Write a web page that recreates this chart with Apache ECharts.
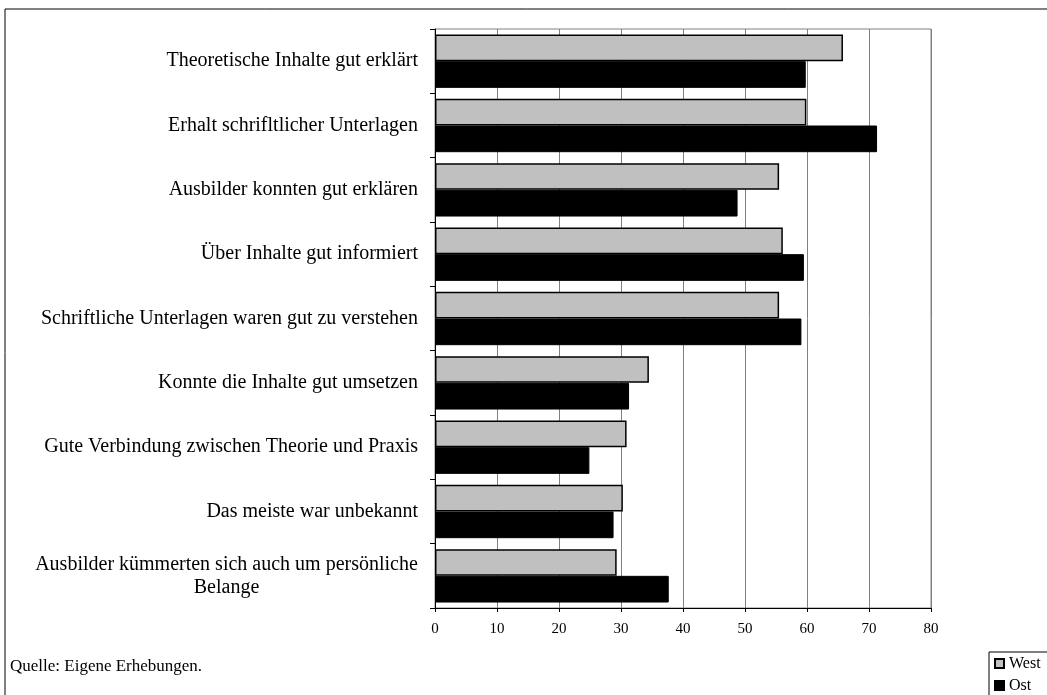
<!DOCTYPE html>
<html>
<head>
<meta charset="utf-8">
<script src="https://cdn.jsdelivr.net/npm/echarts@6/dist/echarts.min.js"></script>
<style>html,body{margin:0;padding:0;background:#fff}#c{width:1047px;height:695px}</style>
</head>
<body>
<div id="c"></div>
<script>
var categories = [
  "Theoretische Inhalte gut erklärt",
  "Erhalt schrifltlicher Unterlagen",
  "Ausbilder konnten gut erklären",
  "Über Inhalte gut informiert",
  "Schriftliche Unterlagen waren gut zu verstehen",
  "Konnte die Inhalte gut umsetzen",
  "Gute Verbindung zwischen Theorie und Praxis",
  "Das meiste war unbekannt",
  "Ausbilder kümmerten sich auch um persönliche\nBelange"
];
var westValues = [65.8, 59.9, 55.5, 56.1, 55.5, 34.5, 30.9, 30.3, 29.3];
var ostValues  = [59.8, 71.3, 48.8, 59.5, 59.1, 31.3, 24.9, 28.8, 37.7];
var xTicks = { min: 0, max: 80, interval: 10 };

var FONT = '"Liberation Serif", "Times New Roman", serif';
var CAT_SIZE = 20;
function measure(txt, size) {
  var ctx = document.createElement('canvas').getContext('2d');
  ctx.font = size + 'px ' + FONT;
  return Math.ceil(ctx.measureText(txt).width);
}
var chart = echarts.init(document.getElementById('c'), null, { renderer: 'canvas' });
chart.setOption({
  animation: false,
  backgroundColor: '#ffffff',
  grid: { left: 435, right: 116, top: 29, bottom: 87, show: true, borderColor: '#808080', borderWidth: 1, containLabel: false },
  xAxis: {
    type: 'value', min: xTicks.min, max: xTicks.max, interval: xTicks.interval,
    axisLine: { show: true, onZero: false, lineStyle: { color: '#000', width: 1 } },
    axisTick: { show: true, length: 4, lineStyle: { color: '#000' } },
    axisLabel: { color: '#000', fontFamily: FONT, fontSize: 15, margin: 14 },
    splitLine: { show: true, lineStyle: { color: '#808080', width: 1 } }
  },
  yAxis: {
    type: 'category', data: categories, inverse: true,
    axisLine: { show: true, lineStyle: { color: '#000', width: 1 } },
    axisTick: { show: true, length: 5, lineStyle: { color: '#000' } },
    axisLabel: {
      color: '#000', fontFamily: FONT, fontSize: CAT_SIZE, margin: 17, lineHeight: 23,
      formatter: function (v) {
        if (v.indexOf('\n') >= 0) {
          var p = v.split('\n');
          return '{c|' + p[0] + '}\n{c|' + p[1] + '}';
        }
        return v;
      },
      rich: { c: { width: measure(categories[8].split('\n')[0], CAT_SIZE), align: 'center', fontFamily: FONT, fontSize: CAT_SIZE, color: '#000', lineHeight: 23 } }
    },
    splitLine: { show: false }
  },
  legend: {
    left: 989, top: 652, height: 80, orient: 'vertical', itemWidth: 9, itemHeight: 9, itemGap: 5,
    padding: [3, 30, 3, 5], borderColor: '#000', borderWidth: 1, backgroundColor: '#fff',
    textStyle: { fontFamily: FONT, fontSize: 16, lineHeight: 17, color: '#000' },
    icon: 'rect',
    data: ['West', 'Ost']
  },
  graphic: [
    { type: 'polyline', shape: { points: [[5, 700], [5, 9], [1050, 9]] }, style: { stroke: '#000', lineWidth: 1, fill: null }, silent: true },
    { type: 'text', left: 10, top: 658, style: { text: 'Quelle: Eigene Erhebungen.', font: '17px ' + FONT, fill: '#000' } }
  ],
  series: [
    { name: 'West', type: 'bar', data: westValues, barGap: '0%', barCategoryGap: '17%',
      itemStyle: { color: '#c0c0c0', borderColor: '#000', borderWidth: 1.5 } },
    { name: 'Ost', type: 'bar', data: ostValues, barGap: '0%', barCategoryGap: '17%',
      itemStyle: { color: '#000', borderColor: '#000', borderWidth: 1 } }
  ]
});
</script>
</body>
</html>
